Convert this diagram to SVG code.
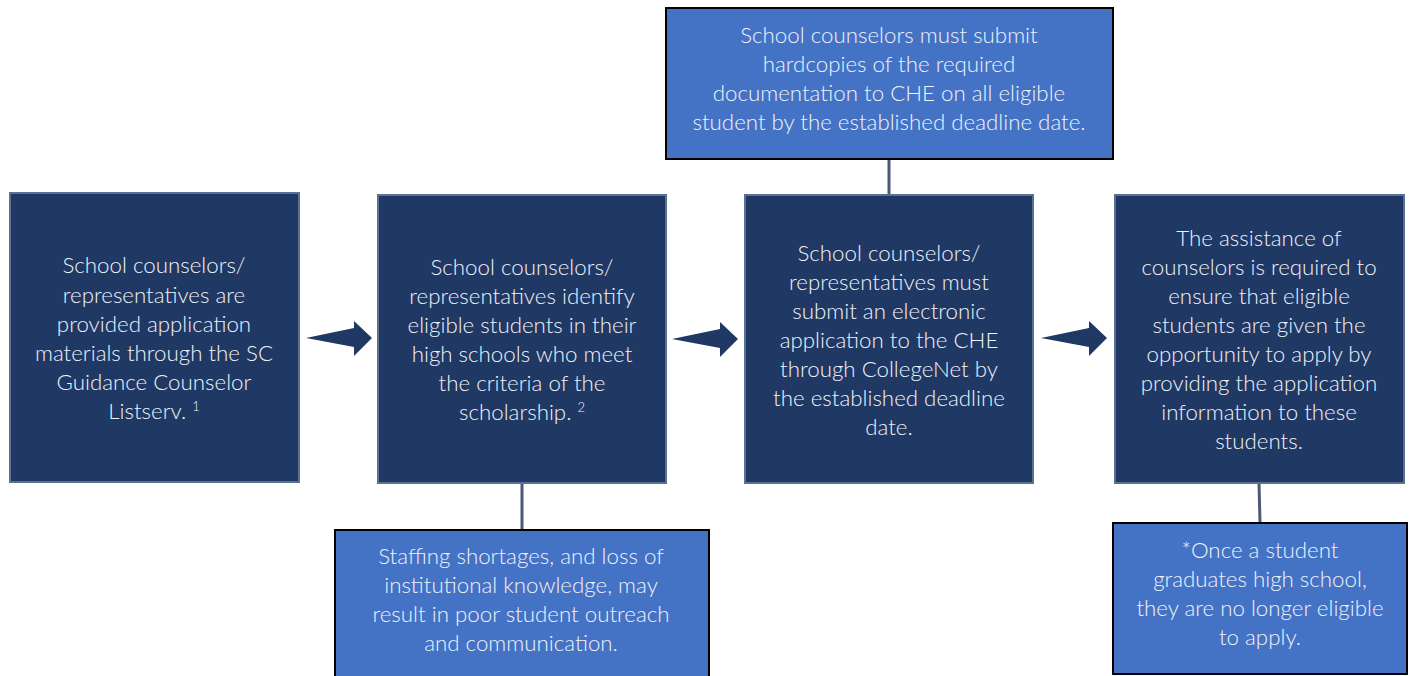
<svg xmlns="http://www.w3.org/2000/svg" width="1410" height="676" viewBox="0 0 1410 676">
<defs>
<style>
.dark{fill:#203864;stroke:#5b7194;stroke-width:2}
.light{fill:#4472C4;stroke:#000;stroke-width:2}
.t{font-family:Lato,"Liberation Sans",sans-serif;font-size:22.3px;font-weight:300;fill:#eef2fa;text-anchor:middle}
.conn{stroke:#4a5a75;stroke-width:3;fill:none}
.arr{fill:#203864}
.sup{font-size:13px}
</style>
<path id="arrow" d="M0,0 L48,-10 L48,-17 L66,0 L48,18 L48,9 Z"/>
</defs>
<rect width="1410" height="676" fill="#fff"/>
<g id="connectors">
<line class="conn" x1="889" y1="159" x2="889" y2="195"/>
<line class="conn" x1="522" y1="483" x2="522" y2="530"/>
<line class="conn" x1="1259" y1="483" x2="1260" y2="523"/>
<use href="#arrow" class="arr" x="306" y="338"/>
<use href="#arrow" class="arr" x="672" y="339"/>
<use href="#arrow" class="arr" x="1041" y="338"/>
</g>
<g id="n1">
<rect class="dark" x="10" y="193" width="289" height="289"/>
<text class="t"><tspan x="154" y="273">School counselors/</tspan><tspan x="154" y="303">representatives are</tspan><tspan x="154" y="332">provided application</tspan><tspan x="154" y="361">materials through the SC</tspan><tspan x="154" y="390">Guidance Counselor</tspan><tspan x="154" y="419">Listserv. <tspan class="sup" dy="-8">1</tspan></tspan></text>
</g>
<g id="n2">
<rect class="dark" x="378" y="195" width="288" height="288"/>
<text class="t"><tspan x="522" y="275">School counselors/</tspan><tspan x="522" y="304">representatives identify</tspan><tspan x="522" y="333">eligible students in their</tspan><tspan x="522" y="362">high schools who meet</tspan><tspan x="522" y="391">the criteria of the</tspan><tspan x="522" y="420">scholarship. <tspan class="sup" dy="-8">2</tspan></tspan></text>
</g>
<g id="n3">
<rect class="dark" x="745" y="195" width="288" height="288"/>
<text class="t"><tspan x="889" y="261">School counselors/</tspan><tspan x="889" y="290">representatives must</tspan><tspan x="889" y="319">submit an electronic</tspan><tspan x="889" y="348">application to the CHE</tspan><tspan x="889" y="377">through CollegeNet by</tspan><tspan x="889" y="406">the established deadline</tspan><tspan x="889" y="435">date.</tspan></text>
</g>
<g id="n4">
<rect class="dark" x="1115" y="195" width="289" height="288"/>
<text class="t"><tspan x="1259" y="246">The assistance of</tspan><tspan x="1259" y="275">counselors is required to</tspan><tspan x="1259" y="304">ensure that eligible</tspan><tspan x="1259" y="333">students are given the</tspan><tspan x="1259" y="362">opportunity to apply by</tspan><tspan x="1259" y="391">providing the application</tspan><tspan x="1259" y="420">information to these</tspan><tspan x="1259" y="449">students.</tspan></text>
</g>
<g id="n5">
<rect class="light" x="666" y="8" width="447" height="151"/>
<text class="t"><tspan x="889" y="43">School counselors must submit</tspan><tspan x="889" y="72">hardcopies of the required</tspan><tspan x="889" y="101">documentation to CHE on all eligible</tspan><tspan x="889" y="130">student by the established deadline date.</tspan></text>
</g>
<g id="n6">
<rect class="light" x="335" y="530" width="374" height="150"/>
<text class="t"><tspan x="521" y="564">Staffing shortages, and loss of</tspan><tspan x="521" y="593">institutional knowledge, may</tspan><tspan x="521" y="622">result in poor student outreach</tspan><tspan x="521" y="651">and communication.</tspan></text>
</g>
<g id="n7">
<rect class="light" x="1113" y="523" width="294" height="151"/>
<text class="t"><tspan x="1260" y="558">*Once a student</tspan><tspan x="1260" y="587">graduates high school,</tspan><tspan x="1260" y="616">they are no longer eligible</tspan><tspan x="1260" y="645">to apply.</tspan></text>
</g>
</svg>
